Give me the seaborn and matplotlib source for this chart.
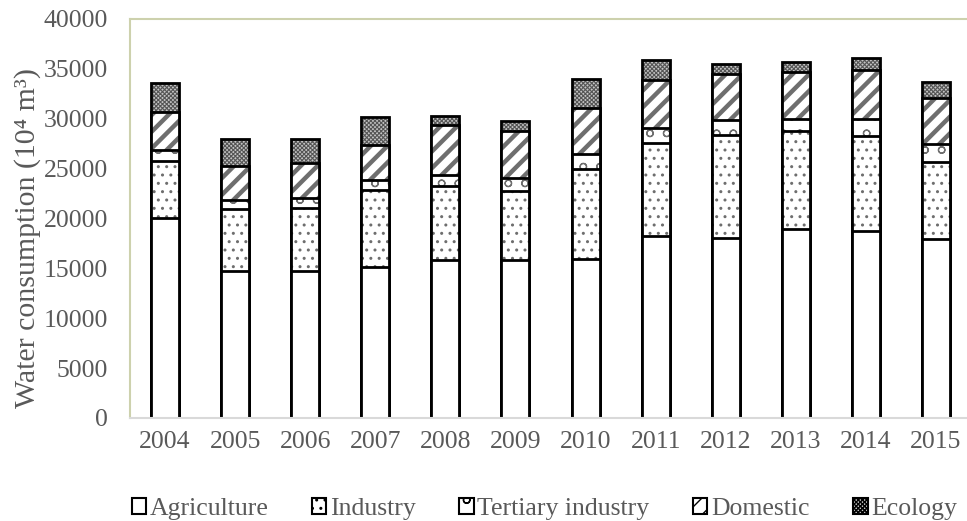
import numpy as np
import pandas as pd
import matplotlib
matplotlib.use("Agg")
import matplotlib.pyplot as plt
import matplotlib.patches as mpatches
import seaborn as sns

years = ["2004", "2005", "2006", "2007", "2008", "2009",
         "2010", "2011", "2012", "2013", "2014", "2015"]
agriculture = [20100, 14700, 14700, 15100, 15800, 15800, 15900, 18200, 18000, 18900, 18700, 17900]
industry = [5700, 6250, 6400, 7750, 7500, 7000, 9100, 9400, 10400, 9900, 9550, 7750]
tertiary = [1050, 950, 1000, 1000, 1100, 1250, 1450, 1500, 1500, 1150, 1750, 1850]
domestic = [3850, 3400, 3500, 3500, 5000, 4750, 4650, 4800, 4550, 4750, 4900, 4600]
ecology = [2900, 2650, 2400, 2850, 850, 1000, 2850, 2000, 1050, 1000, 1200, 1600]

series = ["Agriculture", "Industry", "Tertiary industry", "Domestic", "Ecology"]
values = [agriculture, industry, tertiary, domestic, ecology]
hatches = ["", "..", "o", "//", "xxxxxxxx"]
hatch_lw = [1.0, 1.0, 0.9, 3.2, 0.8]
faces = ["white", "white", "white", "white", "#c4c4c4"]
hatch_cols = ["#6e6e6e", "#6e6e6e", "#6e6e6e", "#6e6e6e", "#555555"]

df = pd.DataFrame(dict(zip(series, values)), index=years)
cum = df.cumsum(axis=1)

sns.set_style("white")
plt.rcParams["font.family"] = ["Liberation Serif", "DejaVu Serif"]
text_gray = "#595959"
fs = 18.5

fig = plt.figure(figsize=(9.67, 5.21), dpi=100)
ax = fig.add_axes([130 / 967, 103 / 521, 841 / 967, 399 / 521])

# stacked bars: draw cumulative totals from top layer down
for i in range(len(series) - 1, -1, -1):
    name = series[i]
    d = pd.DataFrame({"year": years, "total": cum[name].values})
    sns.barplot(data=d, x="year", y="total", color=faces[i], saturation=1,
                edgecolor=hatch_cols[i], hatch=hatches[i], linewidth=0,
                width=0.4, ax=ax, errorbar=None)
    for p in ax.patches[-len(years):]:
        p.set_facecolor(faces[i])
        if hasattr(p, "set_hatch_linewidth"):
            p.set_hatch_linewidth(hatch_lw[i])
    sns.barplot(data=d, x="year", y="total", color="black", fill=False,
                linewidth=2.0, width=0.4, ax=ax, errorbar=None)
    for p in ax.patches[-len(years):]:
        p.set_edgecolor("black")
        p.set_facecolor("none")

ax.set_xlim(-0.5, 11.5)
ax.set_ylim(0, 40000)
ax.set_yticks(range(0, 40001, 5000))
ax.set_xlabel("")
ax.set_ylabel("Water consumption (10\u2074 m\u00b3)", fontsize=21.5, color=text_gray)
ax.yaxis.set_label_coords(-0.106, 0.45)
ax.tick_params(axis="y", length=0, pad=16, labelsize=fs, labelcolor=text_gray)
ax.tick_params(axis="x", length=0, pad=9, labelsize=fs, labelcolor=text_gray)

for s in ["top", "left"]:
    ax.spines[s].set_color("#cdd1ad")
    ax.spines[s].set_linewidth(1.5)
ax.spines["bottom"].set_color("#d9d9d9")
ax.spines["bottom"].set_linewidth(1.5)
ax.spines["right"].set_visible(False)

handles = []
for i, name in enumerate(series):
    h = mpatches.Patch(facecolor=faces[i], edgecolor="black", hatch=hatches[i],
                       linewidth=1.5, label=name)
    handles.append(h)
fig.legend(handles=handles, loc="lower center", bbox_to_anchor=(0.563, -0.043),
           ncol=5, frameon=False, fontsize=fs, handlelength=0.55, handleheight=0.55,
           handletextpad=0.15, columnspacing=1.7, labelcolor=text_gray)

fig.savefig("out.png", dpi=100)
